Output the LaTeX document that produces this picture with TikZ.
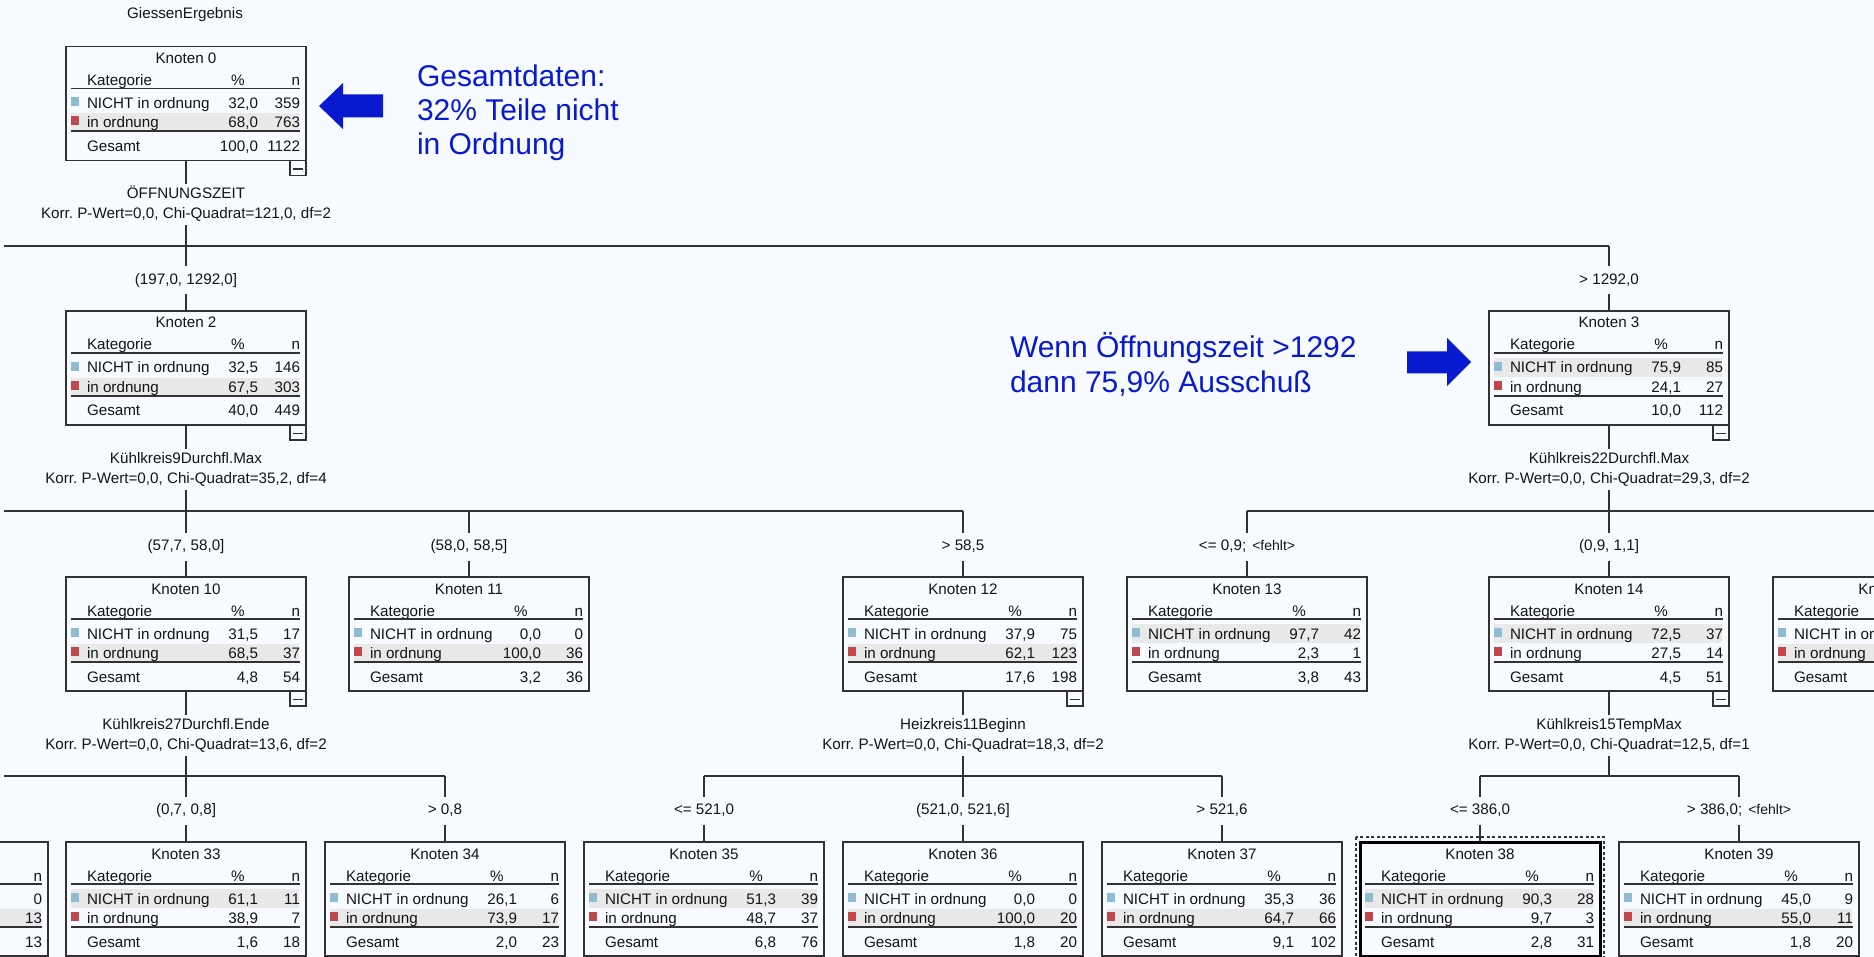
\documentclass[tikz,border=0pt]{standalone}
\usepackage{fontspec}
\setmainfont{Liberation Sans}
\usetikzlibrary{calc}
\frenchspacing
\definecolor{bgcol}{RGB}{247,251,255}
\definecolor{linecol}{RGB}{50,50,50}
\definecolor{txtcol}{RGB}{20,20,20}
\definecolor{bandcol}{RGB}{233,233,233}
\definecolor{sqblue}{RGB}{143,187,211}
\definecolor{sqred}{RGB}{192,72,76}
\definecolor{annblue}{RGB}{8,26,208}
\newcommand\treefont{\fontsize{15.2}{18}\selectfont}
\newcommand\smallfont{\fontsize{14}{16}\selectfont}
\newcommand\annfont{\fontsize{30}{34}\selectfont}
\tikzset{
  every node/.style={inner sep=0pt, outer sep=0pt},
  kbox/.style={draw=linecol, line width=1.2pt, minimum width=240pt, minimum height=114pt},
  kc/.style={font=\treefont, text=txtcol, anchor=base},
  kl/.style={font=\treefont, text=txtcol, anchor=base west},
  kr/.style={font=\treefont, text=txtcol, anchor=base east},
  hdrline/.style={draw=linecol, line width=1.3pt},
  totline/.style={draw=linecol, line width=2pt},
  band/.style={fill=bandcol},
  conn/.style={draw=linecol, line width=1.2pt},
  lab/.style={font=\treefont, text=txtcol, anchor=base, text height=11pt, text depth=3pt, inner ysep=3.5pt},
  blab/.style={font=\treefont, text=txtcol, anchor=base, text height=11pt, text depth=3pt, inner ysep=7pt},
  mbox/.style={draw=linecol, line width=1.2pt},
  ann/.style={font=\annfont, text=annblue, anchor=base west},
  selbox/.style={draw=linecol, line width=1.2pt, dash pattern=on 3pt off 2.5pt},
}
% box with title, header, category labels
\newcommand\knbox[6]{%
  \node[kbox,#6] (#1) at (#2,#3+57) {};
  \begin{scope}[shift={(#1.north west)}]
    \ifnum#5=1 \fill[band] (5,47) rectangle (233,66);\else\fill[band] (5,67) rectangle (233,85);\fi
    \node[kc] (#1-t) at (120,17) {#4};
    \node[kl] (#1-h) at (21,39) {Kategorie};
    \node[kc] (#1-hp) at (172,39) {\%};
    \node[kr] (#1-hn) at (234,39) {n};
    \draw[hdrline] (5,42) -- (234,42);
    \fill[sqblue] (5,51) rectangle (13,60);
    \fill[sqred] (5,70) rectangle (13,79);
    \node[kl] (#1-c1) at (21,62) {NICHT in ordnung};
    \node[kl] (#1-c2) at (21,81) {in ordnung};
    \draw[totline] (5,85) -- (234,85);
    \node[kl] (#1-g) at (21,105) {Gesamt};
  \end{scope}}
\newcommand\knvals[7]{%
  \begin{scope}[shift={(#1.north west)}]
    \node[kr] (#1-p1) at (192,62) {#2};
    \node[kr] (#1-n1) at (234,62) {#3};
    \node[kr] (#1-p2) at (192,81) {#4};
    \node[kr] (#1-n2) at (234,81) {#5};
    \node[kr] (#1-pt) at (192,105) {#6};
    \node[kr] (#1-nt) at (234,105) {#7};
  \end{scope}}
\newcommand\knminus[1]{%
  \begin{scope}[shift={(#1.south east)}]
    \draw[mbox] (-16,0) rectangle (0,15);
    \draw[mbox] (-13,8.5) -- (-3,8.5);
  \end{scope}}
\begin{document}
\begin{tikzpicture}[x=1pt,y=-1pt]
\useasboundingbox (0,0) rectangle (1874,957);
\clip (0,0) rectangle (1874,957);
\fill[bgcol] (0,0) rectangle (1874,957);

% ---------- root ----------
\node[kc] (root) at (185,18.5) {GiessenErgebnis};
\knbox{k0}{186}{46.5}{Knoten 0}{2}{}
\knvals{k0}{32,0}{359}{68,0}{763}{100,0}{1122}
\knminus{k0}
\node[lab] (s0a) at (186,198.5) {ÖFFNUNGSZEIT};
\node[lab] (s0b) at (186,218.5) {Korr. P-Wert=0,0, Chi-Quadrat=121,0, df=2};
\coordinate (h0) at (186,246);
\coordinate (h0l) at (4,246);
\coordinate (h0r) at (1609,246);
\draw[conn] (k0.south) -- (s0a.north);
\draw[conn] (s0b.south) -- (h0);
\draw[conn] (h0l) -- (h0r);

% ---------- level 1 ----------
\knbox{k2}{186}{311}{Knoten 2}{2}{}
\knvals{k2}{32,5}{146}{67,5}{303}{40,0}{449}
\knminus{k2}
\knbox{k3}{1609}{311}{Knoten 3}{1}{}
\knvals{k3}{75,9}{85}{24,1}{27}{10,0}{112}
\knminus{k3}
\node[blab] (b2) at (186,284.5) {(197,0, 1292,0]};
\node[blab] (b3) at (1609,284.5) {> 1292,0};
\draw[conn] (h0) -- (b2.north);
\draw[conn] (b2.south) -- (k2.north);
\draw[conn] (h0r) -- (b3.north);
\draw[conn] (b3.south) -- (k3.north);

\node[lab] (s2a) at (186,463.5) {Kühlkreis9Durchfl.Max};
\node[lab] (s2b) at (186,483.5) {Korr. P-Wert=0,0, Chi-Quadrat=35,2, df=4};
\coordinate (h2) at (186,511);
\coordinate (h2l) at (4,511);
\coordinate (h2r) at (963,511);
\coordinate (h2m) at (469,511);
\draw[conn] (k2.south) -- (s2a.north);
\draw[conn] (s2b.south) -- (h2);
\draw[conn] (h2l) -- (h2r);

\node[lab] (s3a) at (1609,463.5) {Kühlkreis22Durchfl.Max};
\node[lab] (s3b) at (1609,483.5) {Korr. P-Wert=0,0, Chi-Quadrat=29,3, df=2};
\coordinate (h3) at (1609,511);
\coordinate (h3l) at (1247,511);
\coordinate (h3r) at (1880,511);
\draw[conn] (k3.south) -- (s3a.north);
\draw[conn] (s3b.south) -- (h3);
\draw[conn] (h3l) -- (h3r);

% ---------- level 2 ----------
\knbox{k10}{186}{577}{Knoten 10}{2}{}
\knvals{k10}{31,5}{17}{68,5}{37}{4,8}{54}
\knminus{k10}
\knbox{k11}{469}{577}{Knoten 11}{2}{}
\knvals{k11}{0,0}{0}{100,0}{36}{3,2}{36}
\knbox{k12}{963}{577}{Knoten 12}{2}{}
\knvals{k12}{37,9}{75}{62,1}{123}{17,6}{198}
\knminus{k12}
\knbox{k13}{1247}{577}{Knoten 13}{1}{}
\knvals{k13}{97,7}{42}{2,3}{1}{3,8}{43}
\knbox{k14}{1609}{577}{Knoten 14}{1}{}
\knvals{k14}{72,5}{37}{27,5}{14}{4,5}{51}
\knminus{k14}
\knbox{k15}{1893}{577}{Knoten 15}{2}{}

\node[blab] (b10) at (186,550.5) {(57,7, 58,0]};
\node[blab] (b11) at (469,550.5) {(58,0, 58,5]};
\node[blab] (b12) at (963,550.5) {> 58,5};
\node[blab] (b13) at (1247,550.5) {<= 0,9;\hspace{6pt}{\smallfont <fehlt>}};
\node[blab] (b14) at (1609,550.5) {(0,9, 1,1]};
\draw[conn] (h2) -- (b10.north);  \draw[conn] (b10.south) -- (k10.north);
\draw[conn] (h2m) -- (b11.north); \draw[conn] (b11.south) -- (k11.north);
\draw[conn] (h2r) -- (b12.north); \draw[conn] (b12.south) -- (k12.north);
\draw[conn] (h3l) -- (b13.north); \draw[conn] (b13.south) -- (k13.north);
\draw[conn] (h3) -- (b14.north);  \draw[conn] (b14.south) -- (k14.north);

\node[lab] (s10a) at (186,729.5) {Kühlkreis27Durchfl.Ende};
\node[lab] (s10b) at (186,749.5) {Korr. P-Wert=0,0, Chi-Quadrat=13,6, df=2};
\coordinate (h10) at (186,776);
\coordinate (h10l) at (4,776);
\coordinate (h10r) at (445,776);
\draw[conn] (k10.south) -- (s10a.north);
\draw[conn] (s10b.south) -- (h10);
\draw[conn] (h10l) -- (h10r);

\node[lab] (s12a) at (963,729.5) {Heizkreis11Beginn};
\node[lab] (s12b) at (963,749.5) {Korr. P-Wert=0,0, Chi-Quadrat=18,3, df=2};
\coordinate (h12) at (963,776);
\coordinate (h12l) at (704,776);
\coordinate (h12r) at (1222,776);
\draw[conn] (k12.south) -- (s12a.north);
\draw[conn] (s12b.south) -- (h12);
\draw[conn] (h12l) -- (h12r);

\node[lab] (s14a) at (1609,729.5) {Kühlkreis15TempMax};
\node[lab] (s14b) at (1609,749.5) {Korr. P-Wert=0,0, Chi-Quadrat=12,5, df=1};
\coordinate (h14) at (1609,776);
\coordinate (h14l) at (1480,776);
\coordinate (h14r) at (1739,776);
\draw[conn] (k14.south) -- (s14a.north);
\draw[conn] (s14b.south) -- (h14);
\draw[conn] (h14l) -- (h14r);

% ---------- level 3 ----------
% partial node at the left edge
\node[kbox] (k32) at (-72,899) {};
\begin{scope}[shift={(k32.north west)}]
  \fill[band] (5,67) rectangle (233,85);
  \draw[hdrline] (5,42) -- (234,42);
  \draw[totline] (5,85) -- (234,85);
  \node[kr] (k32-hn) at (234,39) {n};
  \node[kr] (k32-n1) at (234,62) {0};
  \node[kr] (k32-n2) at (234,81) {13};
  \node[kr] (k32-nt) at (234,105) {13};
\end{scope}
\knbox{k33}{186}{842}{Knoten 33}{1}{}
\knvals{k33}{61,1}{11}{38,9}{7}{1,6}{18}
\knbox{k34}{445}{842}{Knoten 34}{2}{}
\knvals{k34}{26,1}{6}{73,9}{17}{2,0}{23}
\knbox{k35}{704}{842}{Knoten 35}{1}{}
\knvals{k35}{51,3}{39}{48,7}{37}{6,8}{76}
\knbox{k36}{963}{842}{Knoten 36}{2}{}
\knvals{k36}{0,0}{0}{100,0}{20}{1,8}{20}
\knbox{k37}{1222}{842}{Knoten 37}{2}{}
\knvals{k37}{35,3}{36}{64,7}{66}{9,1}{102}
\knbox{k38}{1480}{842}{Knoten 38}{1}{draw=black, line width=3pt}
\knvals{k38}{90,3}{28}{9,7}{3}{2,8}{31}
\draw[selbox] ($(k38.north west)+(-4,-5)$) rectangle ($(k38.south east)+(4,5)$);
\knbox{k39}{1739}{842}{Knoten 39}{2}{}
\knvals{k39}{45,0}{9}{55,0}{11}{1,8}{20}

\node[blab] (b33) at (186,814.5) {(0,7, 0,8]};
\node[blab] (b34) at (445,814.5) {> 0,8};
\node[blab] (b35) at (704,814.5) {<= 521,0};
\node[blab] (b36) at (963,814.5) {(521,0, 521,6]};
\node[blab] (b37) at (1222,814.5) {> 521,6};
\node[blab] (b38) at (1480,814.5) {<= 386,0};
\node[blab] (b39) at (1739,814.5) {> 386,0;\hspace{6pt}{\smallfont <fehlt>}};
\draw[conn] (h10) -- (b33.north);  \draw[conn] (b33.south) -- (k33.north);
\draw[conn] (h10r) -- (b34.north); \draw[conn] (b34.south) -- (k34.north);
\draw[conn] (h12l) -- (b35.north); \draw[conn] (b35.south) -- (k35.north);
\draw[conn] (h12) -- (b36.north);  \draw[conn] (b36.south) -- (k36.north);
\draw[conn] (h12r) -- (b37.north); \draw[conn] (b37.south) -- (k37.north);
\draw[conn] (h14l) -- (b38.north); \draw[conn] (b38.south) -- (k38.north);
\draw[conn] (h14r) -- (b39.north); \draw[conn] (b39.south) -- (k39.north);

% ---------- annotations ----------
\fill[annblue] (319,106) -- (343,83) -- (343,94.5) -- (383,94.5) -- (383,117.5) -- (343,117.5) -- (343,129) -- cycle;
\node[ann] (a1a) at (417,87) {Gesamtdaten:};
\node[ann] (a1b) at (417,121) {32\% Teile nicht};
\node[ann] (a1c) at (417,155) {in Ordnung};

\fill[annblue] (1471,362) -- (1447,338) -- (1447,351.5) -- (1407,351.5) -- (1407,373.5) -- (1447,373.5) -- (1447,386) -- cycle;
\node[ann] (a2a) at (1010,358) {Wenn Öffnungszeit >1292};
\node[ann] (a2b) at (1010,392) {dann 75,9\% Ausschuß};
\end{tikzpicture}
\end{document}
